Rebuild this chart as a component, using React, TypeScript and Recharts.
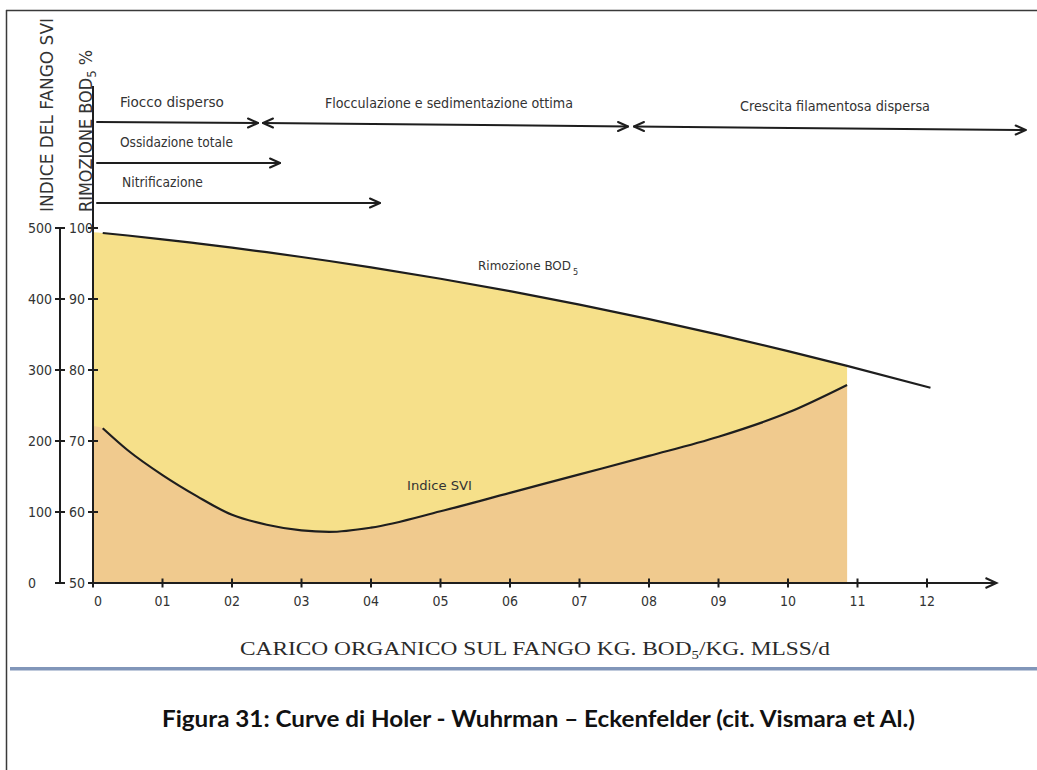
import React from 'react';
import { ComposedChart, Area, Line, XAxis, YAxis, ReferenceLine, ReferenceDot } from 'recharts';

// ---- data (x = carico organico, in tenths) ----
const xValues = [0, 0.14, 0.5, 1, 1.5, 2, 2.5, 3, 3.4, 4, 5, 6, 7, 8, 9, 10, 10.85, 12.05];
const bodRemoval = [null, 99.3, 98.94, 98.41, 97.83, 97.23, 96.59, 95.92, 95.35, 94.45, 92.85, 91.1, 89.2, 87.17, 84.99, 82.66, 80.58, 77.5];
const bodRemovalFill = [99.4, 99.3, 98.94, 98.41, 97.83, 97.23, 96.59, 95.92, 95.35, 94.45, 92.85, 91.1, 89.2, 87.17, 84.99, 82.66, 80.58, null];
const sviIndex = [null, 218, 187, 152, 122, 96, 82, 74, 72, 78, 101, 127, 153, 179, 206, 240, 279, null];
const sviIndexFill = [221, 218, 187, 152, 122, 96, 82, 74, 72, 78, 101, 127, 153, 179, 206, 240, 279, null];

const xTickValues = [0, 1, 2, 3, 4, 5, 6, 7, 8, 9, 10, 11, 12];
const xTickLabels = ['0', '01', '02', '03', '04', '05', '06', '07', '08', '09', '10', '11', '12'];
const sviTicks = [0, 100, 200, 300, 400, 500];
const bodTicks = [50, 60, 70, 80, 90, 100];

// phase arrows (x on load axis, y on BOD % axis)
const phaseArrows = [
  { x1: 0.058, y1: 114.93, x2: 2.374, y2: 114.79, startHead: false, endHead: true },
  { x1: 2.446, y1: 114.79, x2: 7.698, y2: 114.3, startHead: true, endHead: true },
  { x1: 7.784, y1: 114.3, x2: 13.42, y2: 113.8, startHead: true, endHead: true },
  { x1: 0.058, y1: 109.15, x2: 2.691, y2: 109.15, startHead: false, endHead: true },
  { x1: 0.058, y1: 103.52, x2: 4.129, y2: 103.52, startHead: false, endHead: true },
];
const phaseLabels = [
  { text: 'Fiocco disperso', x: 0.388, y: 117.04 },
  { text: 'Flocculazione e sedimentazione ottima', x: 3.338, y: 116.9 },
  { text: 'Crescita filamentosa dispersa', x: 9.309, y: 116.48 },
  { text: 'Ossidazione totale', x: 0.388, y: 111.41 },
  { text: 'Nitrificazione', x: 0.417, y: 105.77 },
];
const phaseLabelWidths: Record<string, number> = {
  'Fiocco disperso': 104,
  'Flocculazione e sedimentazione ottima': 248,
  'Crescita filamentosa dispersa': 190,
  'Ossidazione totale': 113,
  'Nitrificazione': 81,
};
const curveLabels = [
  { text: 'Rimozione BOD', sub: '5', x: 5.54, y: 94.08 },
  { text: 'Indice SVI', sub: '', x: 4.518, y: 63.1 },
];
const curveLabelWidths: Record<string, number> = {
  'Rimozione BOD': 93,
  'Indice SVI': 65,
};

const tableData = xValues.map((x, i) => ({
  x,
  bod: bodRemoval[i],
  bodFill: bodRemovalFill[i],
  svi: sviIndex[i],
  sviFill: sviIndexFill[i],
}));

const NARROW = "'Liberation Sans Narrow', 'Arial Narrow', 'DejaVu Sans Condensed', 'Roboto', 'Liberation Sans', sans-serif";
const INK = '#1e1e1e';
const TEXT = '#333';

function XTick(props: any) {
  const { x, y, payload } = props;
  const label = xTickLabels[xTickValues.indexOf(payload.value)];
  return (
    <g>
      <line x1={x} x2={x} y1={y - 4.5} y2={y + 4.5} stroke={INK} strokeWidth={2} />
      <text x={x + (payload.value === 0 ? 5 : 0)} y={y + 23} textAnchor="middle" fontSize={14} fontFamily={NARROW} fill={TEXT}>
        {label}
      </text>
    </g>
  );
}

function SviTick(props: any) {
  const { x, y, payload } = props;
  return (
    <g>
      <line x1={x - 5} x2={x + 5} y1={y} y2={y} stroke={INK} strokeWidth={2} />
      <text x={x - 32} y={y} dy="0.36em" textAnchor="start" fontSize={14} fontFamily={NARROW} fill={TEXT}>
        {payload.value}
      </text>
    </g>
  );
}

function BodTick(props: any) {
  const { x, y, payload } = props;
  return (
    <g>
      <line x1={x - 5} x2={x + 5} y1={y} y2={y} stroke={INK} strokeWidth={2} />
      <text x={x - 24} y={y} dy="0.36em" textAnchor="start" fontSize={14} fontFamily={NARROW} fill={TEXT}>
        {payload.value}
      </text>
    </g>
  );
}

function ArrowShape(props: any) {
  const { x1, y1, x2, y2, startHead, endHead } = props;
  const h = 10;
  const w = 4.5;
  return (
    <g fill="none" stroke={INK} strokeWidth={2} strokeLinecap="round" strokeLinejoin="round">
      <line x1={x1} y1={y1} x2={x2} y2={y2} />
      {endHead && <polyline points={`${x2 - h},${y2 - w} ${x2},${y2} ${x2 - h},${y2 + w}`} />}
      {startHead && <polyline points={`${x1 + h},${y1 - w} ${x1},${y1} ${x1 + h},${y1 + w}`} />}
    </g>
  );
}

function SviTitle(props: any) {
  const vb = props.viewBox;
  const cx = vb.x + vb.width - 7;
  const cy = vb.y + 29;
  return (
    <text
      x={cx}
      y={cy}
      transform={`rotate(-90, ${cx}, ${cy})`}
      textAnchor="middle"
      fontSize={18}
      fontFamily={NARROW}
      fill={TEXT}
      textLength={194}
      lengthAdjust="spacingAndGlyphs"
    >
      INDICE DEL FANGO SVI
    </text>
  );
}

function BodTitle(props: any) {
  const vb = props.viewBox;
  const bx = vb.x + vb.width - 1;
  const by = vb.y + 126;
  return (
    <text
      x={bx}
      y={by}
      transform={`rotate(-90, ${bx}, ${by})`}
      textAnchor="start"
      fontSize={18}
      fontFamily={NARROW}
      fill={TEXT}
      textLength={162}
      lengthAdjust="spacingAndGlyphs"
    >
      RIMOZIONE BOD<tspan fontSize={13} dy={4}>5</tspan>
      <tspan dy={-4}> %</tspan>
    </text>
  );
}

function XTitle(props: any) {
  const vb = props.viewBox;
  const tx = vb.x + 147;
  const ty = vb.y + 72;
  return (
    <text
      x={tx}
      y={ty}
      fontSize={19}
      fontFamily="'Liberation Serif', 'Times New Roman', serif"
      fill="#2a2a2a"
      textLength={590}
      lengthAdjust="spacingAndGlyphs"
    >
      CARICO ORGANICO SUL FANGO KG. BOD<tspan fontSize={12} dy={4}>5</tspan>
      <tspan dy={-4}>/KG. MLSS/d</tspan>
    </text>
  );
}

export default function App() {
  return (
    <div style={{ position: 'relative', width: 1037, height: 770, background: '#fff', overflow: 'hidden' }}>
      <style>{`body{margin:0;}`}</style>
      <svg width={1037} height={770} style={{ position: 'absolute', left: 0, top: 0 }}>
        <line x1={6} y1={10.5} x2={1037} y2={10.5} stroke="#3a3a3a" strokeWidth={1.5} />
        <line x1={6.5} y1={10} x2={6.5} y2={770} stroke="#3a3a3a" strokeWidth={1.5} />
        <rect x={10} y={667} width={1027} height={3.5} fill="#8196B9" />
        <text
          x={162}
          y={727}
          fontSize={23}
          fontWeight="bold"
          fontFamily="Lato, 'Open Sans', 'Noto Sans', sans-serif"
          fill="#111"
          textLength={753}
          lengthAdjust="spacingAndGlyphs"
        >
          Figura 31: Curve di Holer - Wuhrman – Eckenfelder (cit. Vismara et Al.)
        </text>
      </svg>
      <div style={{ position: 'absolute', left: 0, top: 0 }}>
        <ComposedChart width={1037} height={700} data={tableData} margin={{ top: 86, right: 40.5, left: 0, bottom: 87 }}>
          <Area
            yAxisId="bod"
            type="monotone"
            dataKey="bodFill"
            stroke="none"
            fill="#F6E08A"
            fillOpacity={1}
            isAnimationActive={false}
            dot={false}
            activeDot={false}
          />
          <Area
            yAxisId="svi"
            type="monotone"
            dataKey="sviFill"
            stroke="none"
            fill="#F0CA8E"
            fillOpacity={1}
            isAnimationActive={false}
            dot={false}
            activeDot={false}
          />
          <Line
            yAxisId="bod"
            type="monotone"
            dataKey="bod"
            stroke={INK}
            strokeWidth={2.2}
            dot={false}
            activeDot={false}
            isAnimationActive={false}
          />
          <Line
            yAxisId="svi"
            type="monotone"
            dataKey="svi"
            stroke={INK}
            strokeWidth={2.2}
            dot={false}
            activeDot={false}
            isAnimationActive={false}
          />
          <XAxis
            dataKey="x"
            type="number"
            domain={[0, 13]}
            ticks={xTickValues}
            interval={0}
            tick={<XTick />}
            tickLine={false}
            tickSize={0}
            tickMargin={0}
            height={30}
            axisLine={{ stroke: INK, strokeWidth: 2 }}
            label={<XTitle />}
          />
          <YAxis
            yAxisId="bod"
            orientation="left"
            type="number"
            domain={[50, 120]}
            ticks={bodTicks}
            interval={0}
            width={33}
            tick={<BodTick />}
            tickLine={false}
            tickSize={0}
            tickMargin={0}
            axisLine={{ stroke: INK, strokeWidth: 2 }}
            allowDataOverflow
            label={<BodTitle />}
          />
          <YAxis
            yAxisId="svi"
            orientation="left"
            type="number"
            domain={[0, 700]}
            ticks={sviTicks}
            interval={0}
            width={60}
            tick={<SviTick />}
            tickLine={false}
            tickSize={0}
            tickMargin={0}
            axisLine={false}
            allowDataOverflow
            label={<SviTitle />}
          />
          <ReferenceLine
            yAxisId="svi"
            segment={[{ x: -0.4748, y: 0 }, { x: -0.4748, y: 500 }]}
            ifOverflow="visible"
            stroke={INK}
            strokeWidth={2}
          />
          <ReferenceDot
            yAxisId="bod"
            x={13}
            y={50}
            ifOverflow="visible"
            shape={(p: any) => (
              <polyline
                points={`${p.cx - 11},${p.cy - 5} ${p.cx},${p.cy} ${p.cx - 11},${p.cy + 5}`}
                fill="none"
                stroke={INK}
                strokeWidth={2}
              />
            )}
          />
          {phaseArrows.map((a, i) => (
            <ReferenceLine
              key={`arrow-${i}`}
              yAxisId="bod"
              segment={[{ x: a.x1, y: a.y1 }, { x: a.x2, y: a.y2 }]}
              ifOverflow="visible"
              stroke={INK}
              shape={(p: any) => <ArrowShape {...p} startHead={a.startHead} endHead={a.endHead} />}
            />
          ))}
          {phaseLabels.map((l, i) => (
            <ReferenceDot
              key={`label-${i}`}
              yAxisId="bod"
              x={l.x}
              y={l.y}
              ifOverflow="visible"
              shape={(p: any) => (
                <text
                  x={p.cx}
                  y={p.cy}
                  fontSize={14}
                  fontFamily={NARROW}
                  fill={TEXT}
                  textLength={phaseLabelWidths[l.text]}
                  lengthAdjust="spacingAndGlyphs"
                >
                  {l.text}
                </text>
              )}
            />
          ))}
          {curveLabels.map((l, i) => (
            <ReferenceDot
              key={`curve-${i}`}
              yAxisId="bod"
              x={l.x}
              y={l.y}
              ifOverflow="visible"
              shape={(p: any) => {
                const w = curveLabelWidths[l.text];
                return (
                  <g>
                    <text
                      x={p.cx}
                      y={p.cy}
                      fontSize={13}
                      fontFamily={NARROW}
                      fill={TEXT}
                      textLength={w}
                      lengthAdjust="spacingAndGlyphs"
                    >
                      {l.text}
                    </text>
                    {l.sub ? (
                      <text x={p.cx + w + 2} y={p.cy + 5} fontSize={9} fontFamily={NARROW} fill={TEXT}>
                        {l.sub}
                      </text>
                    ) : null}
                  </g>
                );
              }}
            />
          ))}
        </ComposedChart>
      </div>
    </div>
  );
}
